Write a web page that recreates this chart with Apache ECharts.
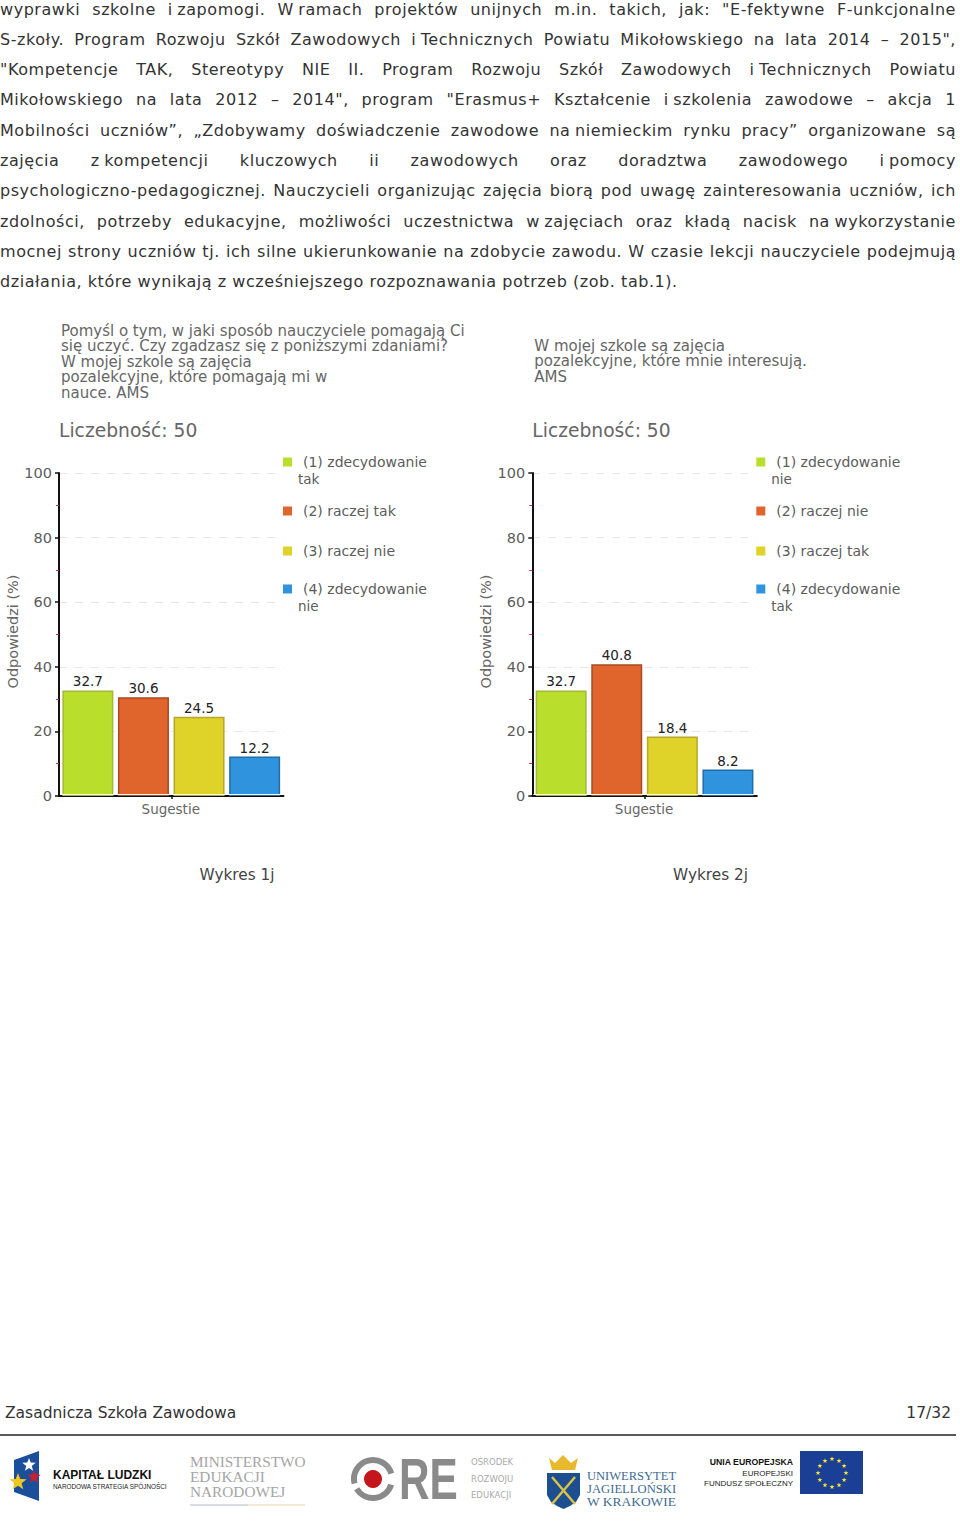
<!DOCTYPE html>
<html><head><meta charset="utf-8">
<script src="https://cdn.jsdelivr.net/npm/echarts@6/dist/echarts.min.js"></script>
<style>
html,body{margin:0;padding:0;background:#fff;}
#chart{position:absolute;left:0;top:0;width:960px;height:1523px;}
#para{position:absolute;left:0;top:0;width:956px;font-family:"DejaVu Sans",sans-serif;font-size:16px;letter-spacing:0.55px;color:#333;}
#para div{position:absolute;left:0;width:956px;white-space:nowrap;line-height:20px;text-align:justify;text-align-last:justify;}
#para div.last{text-align-last:left;}
</style></head><body>
<div id="chart"></div><div id="para"></div>
<script>
const paragraphLines = [
 'wyprawki szkolne i\u2005zapomogi. W\u2005ramach projektów unijnych m.in. takich, jak: "E-fektywne F-unkcjonalne',
 'S-zkoły. Program Rozwoju Szkół Zawodowych i\u2005Technicznych Powiatu Mikołowskiego na lata 2014 – 2015",',
 '"Kompetencje TAK, Stereotypy NIE II. Program Rozwoju Szkół Zawodowych i\u2005Technicznych Powiatu',
 'Mikołowskiego na lata 2012 – 2014", program "Erasmus+ Kształcenie i\u2005szkolenia zawodowe – akcja 1',
 'Mobilności uczniów”, „Zdobywamy doświadczenie zawodowe na\u2005niemieckim rynku pracy” organizowane są',
 'zajęcia z\u2005kompetencji kluczowych ii zawodowych oraz doradztwa zawodowego i\u2005pomocy',
 'psychologiczno-pedagogicznej. Nauczycieli organizując zajęcia biorą pod uwagę zainteresowania uczniów, ich',
 'zdolności, potrzeby edukacyjne, możliwości uczestnictwa w\u2005zajęciach oraz kładą nacisk na\u2005wykorzystanie',
 'mocnej strony uczniów tj. ich silne ukierunkowanie na zdobycie zawodu. W czasie lekcji nauczyciele podejmują',
 'działania, które wynikają z wcześniejszego rozpoznawania potrzeb (zob. tab.1).'
];
const paragraphTops = [0,30,60,90,121,151,181,212,242,272];
const categories = ['Sugestie'];
const names1 = ['(1) zdecydowanie tak','(2) raczej tak','(3) raczej nie','(4) zdecydowanie nie'];
const values1 = [32.7,30.6,24.5,12.2];
const names2 = ['(1) zdecydowanie nie','(2) raczej nie','(3) raczej tak','(4) zdecydowanie tak'];
const values2 = [32.7,40.8,18.4,8.2];
const title1 = 'Pomyśl o tym, w jaki sposób nauczyciele pomagają Ci\nsię uczyć. Czy zgadzasz się z poniższymi zdaniami?\nW mojej szkole są zajęcia\npozalekcyjne, które pomagają mi w\nnauce. AMS';
const title2 = 'W mojej szkole są zajęcia\npozalekcyjne, które mnie interesują.\nAMS';
const countLabel = 'Liczebność: 50';
const captions = ['Wykres 1j','Wykres 2j'];
const footerLeft = 'Zasadnicza Szkoła Zawodowa';
const footerRight = '17/32';
const colors = ['#B9DF2C','#E0652D','#DFD229','#2F93DD'];
const borders = ['#A3B83A','#A84A22','#B5A82C','#1F6FA8'];
const legendY = [462,511,551,589];

const para = document.getElementById('para');
paragraphLines.forEach((t,i)=>{const d=document.createElement('div');d.textContent=t;d.style.top=paragraphTops[i]+'px';if(i===paragraphLines.length-1)d.className='last';para.appendChild(d);});

const FONT='"DejaVu Sans",sans-serif';
const GREY='#5c5c5c';
const chart = echarts.init(document.getElementById('chart'),null,{renderer:'svg',width:960,height:1523});

function panel(idx,dx,titleText,titleTop,names,values){
  const grid={left:59+dx,top:473,width:224.5,height:323};
  const xAxis={type:'category',gridIndex:idx,data:categories,name:categories[0],nameLocation:'middle',nameGap:6,
    nameTextStyle:{color:'#666',fontSize:13.5,fontFamily:FONT,padding:[0,1,0,0]},
    axisLine:{lineStyle:{color:'#111',width:2}},axisLabel:{show:false},
    axisTick:{show:true,alignWithLabel:true,length:3,lineStyle:{color:'#111',width:1.5}}};
  const yAxis={type:'value',gridIndex:idx,min:0,max:100,interval:20,name:'Odpowiedzi (%)',nameLocation:'middle',nameGap:39,
    nameRotate:90,nameTextStyle:{color:'#666',fontSize:14.5,fontFamily:FONT,padding:[0,0,0,6]},
    axisLine:{show:true,lineStyle:{color:'#111',width:2}},
    axisTick:{show:true,length:4,lineStyle:{color:'#111',width:1.5}},
    minorTick:{show:true,splitNumber:2,length:3,lineStyle:{color:'#c8324a',width:1}},
    axisLabel:{color:GREY,fontSize:14.5,fontFamily:FONT,margin:7},
    splitLine:{show:true,lineStyle:{color:'#e6e6e6',type:[8,8],width:1}}};
  const series=names.map((n,i)=>({type:'bar',name:n,xAxisIndex:idx,yAxisIndex:idx,barWidth:51,barGap:'9%',
    data:[values[i]],
    itemStyle:{color:colors[i],borderColor:borders[i],borderWidth:1.5},
    label:{show:true,position:'top',distance:2,color:'#222',fontSize:13.5,fontFamily:FONT,formatter:p=>p.value.toFixed(1)}}));
  const legends=names.map((n,i)=>({left:283+dx,top:legendY[i]-7,orient:'vertical',padding:0,itemWidth:9,itemHeight:9,
    data:[n],icon:'rect',selectedMode:false,itemStyle:{borderWidth:0},
    textStyle:{color:GREY,fontSize:14,fontFamily:FONT,padding:[0,0,0,6]},
    formatter:name=>name.startsWith('(1)')||name.startsWith('(4)')?name.split(' ').slice(0,2).join(' '):name}));
  const wraps=names.map((n,i)=>(i===0||i===3)?({type:'text',x:298+dx,y:legendY[i]+17,z:5,
    style:{text:n.split(' ')[2],fill:GREY,font:'13.5px '+FONT,textVerticalAlign:'middle'}}):null).filter(Boolean);
  const titles=[
    {text:titleText,left:61+dx,top:titleTop,padding:0,textStyle:{color:'#666',fontSize:15,fontWeight:'normal',fontFamily:FONT,lineHeight:15.5}},
    {text:countLabel,left:59+dx,top:421,padding:0,textStyle:{color:'#666',fontSize:18.7,fontWeight:'normal',fontFamily:FONT}}
  ];
  return {grid,xAxis,yAxis,series,legends,wraps,titles};
}
const a=panel(0,0,title1,323,names1,values1);
const b=panel(1,473.3,title2,338,names2,values2);

function star(cx,cy,R,fill,z){
  const pts=[];for(let i=0;i<10;i++){const r=i%2?R*0.42:R;const t=-Math.PI/2+i*Math.PI/5;pts.push([cx+r*Math.cos(t),cy+r*Math.sin(t)]);}
  return {type:'polygon',shape:{points:pts},style:{fill},z:z||6};
}
function txt(x,y,text,font,fill,align){return {type:'text',x,y,z:6,style:{text,font,fill,textAlign:align||'left',textVerticalAlign:'middle'}};}
const logos=[
 {type:'polygon',shape:{points:[[14,1460],[39,1451],[39,1501],[14,1492]]},style:{fill:'#1B4F9C'},z:5},
 star(29,1465,7,'#fff'),star(18,1482,9,'#F2C81E'),star(34,1477,7,'#C8202F'),
 txt(53,1475,'KAPITAŁ LUDZKI','bold 12px "Liberation Sans"','#111'),
 txt(53,1486,'NARODOWA STRATEGIA SPÓJNOŚCI','6.4px "Liberation Sans"','#222'),
 txt(190,1461,'MINISTERSTWO','15.3px "Liberation Serif"','#a5a5a5'),
 txt(190,1476,'EDUKACJI','15.3px "Liberation Serif"','#a5a5a5'),
 txt(190,1491,'NARODOWEJ','15.3px "Liberation Serif"','#a5a5a5'),
 {type:'line',shape:{x1:190,y1:1505,x2:248,y2:1505},style:{stroke:'#b3bcc6',lineWidth:1.2},z:5},
 {type:'line',shape:{x1:248,y1:1505,x2:305,y2:1505},style:{stroke:'#ecd3b0',lineWidth:1.2},z:5},
 {type:'arc',shape:{cx:373,cy:1479,r:19,startAngle:0.3,endAngle:2.6},style:{stroke:'#8a8a8a',lineWidth:6,fill:'none'},z:5},
 {type:'arc',shape:{cx:373,cy:1479,r:19,startAngle:2.9,endAngle:6.0},style:{stroke:'#8a8a8a',lineWidth:6,fill:'none'},z:5},
 {type:'circle',shape:{cx:373,cy:1479,r:9},style:{fill:'#C4161C'},z:5},
 Object.assign(txt(399,1479,'RE','bold 58px "Liberation Sans"','#8a8a8a'),{scaleX:0.73}),
 txt(471,1462,'OŚRODEK','8.5px "DejaVu Sans"','#aaa'),
 txt(471,1479,'ROZWOJU','8.5px "DejaVu Sans"','#aaa'),
 txt(471,1495,'EDUKACJI','8.5px "DejaVu Sans"','#aaa'),
 {type:'polygon',shape:{points:[[549,1458],[555,1463],[563,1455],[571,1463],[578,1458],[575,1470],[552,1470]]},style:{fill:'#E8B92E'},z:5},
 {type:'polygon',shape:{points:[[547,1473],[580,1473],[580,1495],[576,1502],[570,1506],[563.5,1509],[557,1506],[551,1502],[547,1495]]},style:{fill:'#1D4E8F'},z:5},
 {type:'line',shape:{x1:552,y1:1477,x2:575,y2:1504},style:{stroke:'#D9C24A',lineWidth:2.5},z:6},
 {type:'line',shape:{x1:575,y1:1477,x2:552,y2:1504},style:{stroke:'#D9C24A',lineWidth:2.5},z:6},
 Object.assign(txt(587,1476,'UNIWERSYTET','11.5px "Liberation Serif"','#3C6C92'),{scaleX:1.09}),
 Object.assign(txt(587,1489,'JAGIELLOŃSKI','11.5px "Liberation Serif"','#3C6C92'),{scaleX:1.1}),
 Object.assign(txt(587,1502,'W KRAKOWIE','11.5px "Liberation Serif"','#3C6C92'),{scaleX:1.17}),
 txt(793,1462,'UNIA EUROPEJSKA','bold 8.7px "Liberation Sans"','#111','right'),
 txt(793,1473,'EUROPEJSKI','8px "Liberation Sans"','#222','right'),
 txt(793,1483,'FUNDUSZ SPOŁECZNY','8px "Liberation Sans"','#222','right'),
 {type:'rect',shape:{x:800,y:1451,width:63,height:43},style:{fill:'#1A3F94'},z:5}
];
for(let i=0;i<12;i++){const t=i*Math.PI/6;logos.push(star(832+14*Math.cos(t),1473+14*Math.sin(t),2.6,'#F5E23A'));}

const others=[
 txt(237,875,captions[0],'15.3px '+FONT,'#444','center'),
 txt(710.5,875,captions[1],'15.3px '+FONT,'#444','center'),
 txt(5,1412.5,footerLeft,'15.5px '+FONT,'#333'),
 txt(951,1412.5,footerRight,'15.5px '+FONT,'#333','right'),
 {type:'line',shape:{x1:0,y1:1435,x2:956,y2:1435},style:{stroke:'#222',lineWidth:1.6},z:5},
 {type:'rect',shape:{x:60,y:794,width:223,height:1},style:{fill:'#fff'},z:4},
 {type:'rect',shape:{x:533.3,y:794,width:223,height:1},style:{fill:'#fff'},z:4}
];

chart.setOption({
  animation:false,backgroundColor:'#fff',
  title:[...a.titles,...b.titles],
  legend:[...a.legends,...b.legends],
  grid:[a.grid,b.grid],xAxis:[a.xAxis,b.xAxis],yAxis:[a.yAxis,b.yAxis],
  series:[...a.series,...b.series],
  graphic:{elements:[...a.wraps,...b.wraps,...others,...logos]}
});
</script></body></html>
